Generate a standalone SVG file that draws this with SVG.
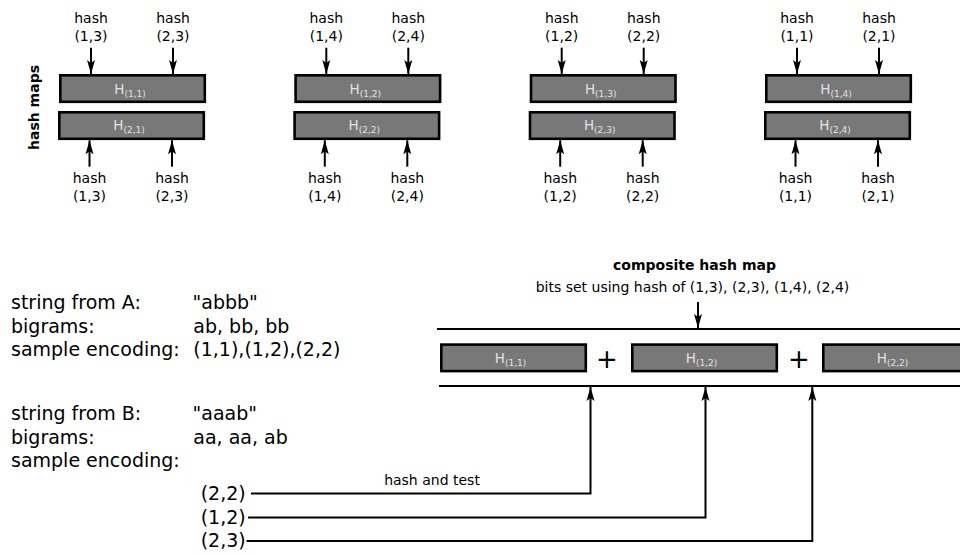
<svg xmlns="http://www.w3.org/2000/svg" width="960" height="554" viewBox="0 0 960 554">
  <style>
    text { font-family: "DejaVu Sans", "Liberation Sans", sans-serif; fill: #000; }
    .sm { font-size: 14px; }
    .big { font-size: 19px; }
    .bold { font-weight: bold; }
    .lbl { font-size: 13.5px; fill: #e2e2e2; }
    .sub { font-size: 9px; }
    .box { fill: #787878; stroke: #000; stroke-width: 2.6; }
    .ln { fill: none; stroke: #000; stroke-width: 2; }
    .arr { fill: none; stroke: #000; stroke-width: 2; marker-end: url(#ah); }
  </style>
  <defs>
    <marker id="ah" markerWidth="16" markerHeight="10" refX="14" refY="5" orient="auto" markerUnits="userSpaceOnUse">
      <path d="M0,1 L14,5 L0,9 L3,5 Z" fill="#000"/>
    </marker>
  </defs>
  <rect width="960" height="554" fill="#fff"/>

  <!-- vertical caption for the upper row -->
  <text class="sm bold" transform="translate(38.7,107.5) rotate(-90)" text-anchor="middle">hash maps</text>

  <!-- pair of hash maps, column 1 -->
  <g id="pair1">
    <text class="sm" x="91" y="23.3" text-anchor="middle">hash</text>
    <text class="sm" x="91" y="40.5" text-anchor="middle">(1,3)</text>
    <text class="sm" x="173" y="23.3" text-anchor="middle">hash</text>
    <text class="sm" x="173" y="40.5" text-anchor="middle">(2,3)</text>
    <rect class="box" x="60.3" y="75.3" width="144.5" height="26.5"/>
    <text class="lbl" x="130" y="93.5" text-anchor="middle">H<tspan class="sub" dy="3">(1,1)</tspan></text>
    <rect class="box" x="59.3" y="112.3" width="144.5" height="26.5"/>
    <text class="lbl" x="129" y="130.3" text-anchor="middle">H<tspan class="sub" dy="3">(2,1)</tspan></text>
    <text class="sm" x="89.5" y="183.3" text-anchor="middle">hash</text>
    <text class="sm" x="89.5" y="200.5" text-anchor="middle">(1,3)</text>
    <text class="sm" x="172" y="183.3" text-anchor="middle">hash</text>
    <text class="sm" x="172" y="200.5" text-anchor="middle">(2,3)</text>
  </g>

  <!-- pair of hash maps, column 2 -->
  <g id="pair2" transform="translate(235.3,0)">
    <text class="sm" x="91" y="23.3" text-anchor="middle">hash</text>
    <text class="sm" x="91" y="40.5" text-anchor="middle">(1,4)</text>
    <text class="sm" x="173" y="23.3" text-anchor="middle">hash</text>
    <text class="sm" x="173" y="40.5" text-anchor="middle">(2,4)</text>
    <rect class="box" x="60.3" y="75.3" width="144.5" height="26.5"/>
    <text class="lbl" x="130" y="93.5" text-anchor="middle">H<tspan class="sub" dy="3">(1,2)</tspan></text>
    <rect class="box" x="59.3" y="112.3" width="144.5" height="26.5"/>
    <text class="lbl" x="129" y="130.3" text-anchor="middle">H<tspan class="sub" dy="3">(2,2)</tspan></text>
    <text class="sm" x="89.5" y="183.3" text-anchor="middle">hash</text>
    <text class="sm" x="89.5" y="200.5" text-anchor="middle">(1,4)</text>
    <text class="sm" x="172" y="183.3" text-anchor="middle">hash</text>
    <text class="sm" x="172" y="200.5" text-anchor="middle">(2,4)</text>
  </g>

  <!-- pair of hash maps, column 3 -->
  <g id="pair3" transform="translate(470.7,0)">
    <text class="sm" x="91" y="23.3" text-anchor="middle">hash</text>
    <text class="sm" x="91" y="40.5" text-anchor="middle">(1,2)</text>
    <text class="sm" x="173" y="23.3" text-anchor="middle">hash</text>
    <text class="sm" x="173" y="40.5" text-anchor="middle">(2,2)</text>
    <rect class="box" x="60.3" y="75.3" width="144.5" height="26.5"/>
    <text class="lbl" x="130" y="93.5" text-anchor="middle">H<tspan class="sub" dy="3">(1,3)</tspan></text>
    <rect class="box" x="59.3" y="112.3" width="144.5" height="26.5"/>
    <text class="lbl" x="129" y="130.3" text-anchor="middle">H<tspan class="sub" dy="3">(2,3)</tspan></text>
    <text class="sm" x="89.5" y="183.3" text-anchor="middle">hash</text>
    <text class="sm" x="89.5" y="200.5" text-anchor="middle">(1,2)</text>
    <text class="sm" x="172" y="183.3" text-anchor="middle">hash</text>
    <text class="sm" x="172" y="200.5" text-anchor="middle">(2,2)</text>
  </g>

  <!-- pair of hash maps, column 4 -->
  <g id="pair4" transform="translate(706,0)">
    <text class="sm" x="91" y="23.3" text-anchor="middle">hash</text>
    <text class="sm" x="91" y="40.5" text-anchor="middle">(1,1)</text>
    <text class="sm" x="173" y="23.3" text-anchor="middle">hash</text>
    <text class="sm" x="173" y="40.5" text-anchor="middle">(2,1)</text>
    <rect class="box" x="60.3" y="75.3" width="144.5" height="26.5"/>
    <text class="lbl" x="130" y="93.5" text-anchor="middle">H<tspan class="sub" dy="3">(1,4)</tspan></text>
    <rect class="box" x="59.3" y="112.3" width="144.5" height="26.5"/>
    <text class="lbl" x="129" y="130.3" text-anchor="middle">H<tspan class="sub" dy="3">(2,4)</tspan></text>
    <text class="sm" x="89.5" y="183.3" text-anchor="middle">hash</text>
    <text class="sm" x="89.5" y="200.5" text-anchor="middle">(1,1)</text>
    <text class="sm" x="172" y="183.3" text-anchor="middle">hash</text>
    <text class="sm" x="172" y="200.5" text-anchor="middle">(2,1)</text>
  </g>

  <!-- string A / string B descriptions -->
  <g id="stringA">
    <text class="big" x="11" y="309">string from A:</text>
    <text class="big" x="192.5" y="309">"abbb"</text>
    <text class="big" x="11" y="332.5">bigrams:</text>
    <text class="big" x="193.3" y="332.5">ab, bb, bb</text>
    <text class="big" x="11" y="356">sample encoding:</text>
    <text class="big" x="193.3" y="356">(1,1),(1,2),(2,2)</text>
  </g>
  <g id="stringB">
    <text class="big" x="11" y="420">string from B:</text>
    <text class="big" x="192.5" y="420">"aaab"</text>
    <text class="big" x="11" y="443.5">bigrams:</text>
    <text class="big" x="193.3" y="443.5">aa, aa, ab</text>
    <text class="big" x="11" y="467">sample encoding:</text>
    <text class="big" x="200.7" y="499.5">(2,2)</text>
    <text class="big" x="200.7" y="523.5">(1,2)</text>
    <text class="big" x="200.7" y="547">(2,3)</text>
  </g>

  <!-- composite hash map -->
  <g id="composite">
    <text class="sm bold" x="694.5" y="270" text-anchor="middle">composite hash map</text>
    <text class="sm" x="692.5" y="292" text-anchor="middle">bits set using hash of (1,3), (2,3), (1,4), (2,4)</text>
    <rect class="box" x="441.3" y="344.6" width="144.5" height="26.5"/>
    <text class="lbl" x="510.5" y="362.5" text-anchor="middle">H<tspan class="sub" dy="3">(1,1)</tspan></text>
    <text x="607" y="367.5" font-size="26" text-anchor="middle">+</text>
    <rect class="box" x="632.3" y="344.6" width="144.5" height="26.5"/>
    <text class="lbl" x="701.5" y="362.5" text-anchor="middle">H<tspan class="sub" dy="3">(1,2)</tspan></text>
    <text x="799" y="367.5" font-size="26" text-anchor="middle">+</text>
    <rect class="box" x="823.3" y="344.6" width="144.5" height="26.5"/>
    <text class="lbl" x="892.5" y="362.5" text-anchor="middle">H<tspan class="sub" dy="3">(2,2)</tspan></text>
  </g>

  <!-- connectors -->
  <g id="connectors">
    <!-- hash inputs into the upper row -->
    <path class="arr" d="M91,47.7 V74"/>
    <path class="arr" d="M173,47.7 V74"/>
    <path class="arr" d="M89.5,166.7 V140.3"/>
    <path class="arr" d="M172,166.7 V140.3"/>
    <path class="arr" d="M326.3,47.7 V74"/>
    <path class="arr" d="M408.3,47.7 V74"/>
    <path class="arr" d="M324.8,166.7 V140.3"/>
    <path class="arr" d="M407.3,166.7 V140.3"/>
    <path class="arr" d="M561.7,47.7 V74"/>
    <path class="arr" d="M643.7,47.7 V74"/>
    <path class="arr" d="M560.2,166.7 V140.3"/>
    <path class="arr" d="M642.7,166.7 V140.3"/>
    <path class="arr" d="M797,47.7 V74"/>
    <path class="arr" d="M879,47.7 V74"/>
    <path class="arr" d="M795.5,166.7 V140.3"/>
    <path class="arr" d="M878,166.7 V140.3"/>
    <!-- composite rails and input -->
    <path class="ln" d="M437,329 H960"/>
    <path class="ln" d="M439,386 H960"/>
    <path class="arr" d="M698,302 V328"/>
    <!-- hash and test paths -->
    <path class="arr" d="M251,493.5 H590.5 V387"/>
    <path class="arr" d="M248,517.5 H705.5 V387"/>
    <path class="arr" d="M246.5,541 H812.3 V387"/>
    <text class="sm" x="432" y="485" text-anchor="middle">hash and test</text>
  </g>
</svg>
